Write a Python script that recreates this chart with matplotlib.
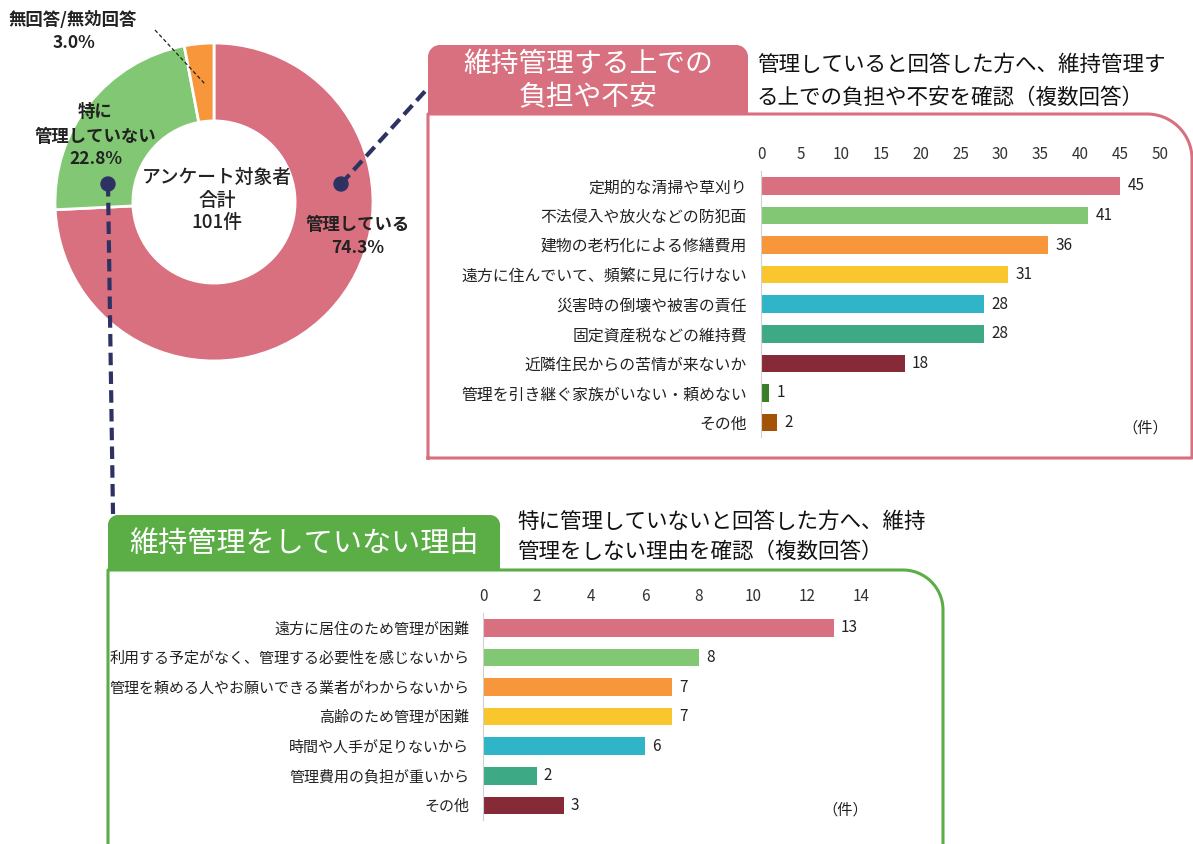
import numpy as np
import matplotlib
matplotlib.use('Agg')
import matplotlib.pyplot as plt
from matplotlib.patches import Polygon, Circle

plt.rcParams['font.family'] = ['Noto Sans CJK JP', 'DejaVu Sans']

# ---- data ----
donut_labels = ['管理している', '特に\n管理していない', '無回答/無効回答']
donut_values = [74.3, 22.8, 3.0]
donut_colors = ['#D9707F', '#82C874', '#F7963A']
total_n = 101

up_labels = ['定期的な清掃や草刈り', '不法侵入や放火などの防犯面', '建物の老朽化による修繕費用',
             '遠方に住んでいて、頻繁に見に行けない', '災害時の倒壊や被害の責任', '固定資産税などの維持費',
             '近隣住民からの苦情が来ないか', '管理を引き継ぐ家族がいない・頼めない', 'その他']
up_values = [45, 41, 36, 31, 28, 28, 18, 1, 2]
up_colors = ['#D9707F', '#82C874', '#F7963A', '#F9C62E', '#2FB5C7', '#3DAA85', '#862A37', '#3A7D2B', '#A55209']

low_labels = ['遠方に居住のため管理が困難', '利用する予定がなく、管理する必要性を感じないから',
              '管理を頼める人やお願いできる業者がわからないから', '高齢のため管理が困難',
              '時間や人手が足りないから', '管理費用の負担が重いから', 'その他']
low_values = [13, 8, 7, 7, 6, 2, 3]
low_colors = ['#D9707F', '#82C874', '#F7963A', '#F9C62E', '#2FB5C7', '#3DAA85', '#862A37']

W, H = 1193, 844
fig = plt.figure(figsize=(W / 100, H / 100), dpi=100)


def px_axes(left, top, w, h, **kw):
    return fig.add_axes([left / W, 1 - (top + h) / H, w / W, h / H], **kw)


PINK = '#D9707F'
GREEN = '#5BAE45'
NAVY = '#2E3262'

# ---- donut ----
cx, cy, R = 214, 202, 159
axp = px_axes(cx - R, cy - R, 2 * R, 2 * R)
axp.pie(donut_values, colors=donut_colors, startangle=90, counterclock=False,
        radius=1, wedgeprops=dict(width=0.49, edgecolor='white', linewidth=2))
axp.set_xlim(-1, 1)
axp.set_ylim(-1, 1)

# ---- bar charts ----
def bar_chart(left, right, top, labels, values, colors, xmax, step, fs_lab):
    n = len(values)
    sp = 29.6
    ax = px_axes(left, top, right - left, n * sp)
    ax.set_facecolor('none')
    y = np.arange(n)
    ax.barh(y, values, color=colors, height=0.6)
    ax.set_ylim(n - 0.5, -0.5)
    ax.set_xlim(0, xmax)
    ax.set_xticks(np.arange(0, xmax + 1, step))
    ax.xaxis.tick_top()
    ax.tick_params(axis='x', length=0, pad=6, labelsize=11, colors='#333333')
    ax.set_yticks(y)
    ax.set_yticklabels(labels, fontsize=fs_lab, color='#222222')
    ax.tick_params(axis='y', length=0, pad=10)
    for s in ['top', 'right', 'bottom']:
        ax.spines[s].set_visible(False)
    ax.spines['left'].set_color('#d0d0d0')
    for yi, v in zip(y, values):
        ax.text(v + xmax * 0.018, yi, str(v), va='center', ha='left', fontsize=11, color='#222222')
    return ax


bar_chart(761, 1160, 171, up_labels, up_values, up_colors, 50, 5, 11.4)
bar_chart(483, 861, 613, low_labels, low_values, low_colors, 14, 2, 10.8)

# ---- overlay for decorations ----
ov = fig.add_axes([0, 0, 1, 1], zorder=10)
ov.set_xlim(0, W)
ov.set_ylim(H, 0)
ov.axis('off')


def tab(x0, x1, y0, y1, r, color):
    t1 = np.linspace(np.pi, 1.5 * np.pi, 20)
    t2 = np.linspace(1.5 * np.pi, 2 * np.pi, 20)
    pts = [(x0, y1)]
    pts += list(zip(x0 + r + r * np.cos(t1), y0 + r + r * np.sin(t1)))
    pts += list(zip(x1 - r + r * np.cos(t2), y0 + r + r * np.sin(t2)))
    pts += [(x1, y1)]
    ov.add_patch(Polygon(pts, closed=True, facecolor=color, edgecolor='none'))


def frame(x0, xr, y0, ybot, r, color):
    t = np.linspace(1.5 * np.pi, 2 * np.pi, 30)
    xs = [x0, x0] + list(xr - r + r * np.cos(t)) + [xr, x0]
    ys = [ybot, y0] + list(y0 + r + r * np.sin(t)) + [ybot, ybot]
    ov.plot(xs, ys, color=color, lw=2.2, solid_joinstyle='round')


frame(428, 1192, 114, 458, 45, PINK)
tab(428, 748, 45, 115, 12, PINK)
ov.text(588, 64, '維持管理する上での', color='white', fontsize=20, ha='center', va='center')
ov.text(588, 97, '負担や不安', color='white', fontsize=20, ha='center', va='center')
ov.text(757, 65, '管理していると回答した方へ、維持管理す', fontsize=15.5, ha='left', va='center', color='#111111')
ov.text(757, 98, 'る上での負担や不安を確認（複数回答）', fontsize=15.5, ha='left', va='center', color='#111111')
ov.text(1145, 428, '（件）', fontsize=11, ha='center', va='center', color='#222222')

frame(108, 943, 570, 860, 40, GREEN)
tab(108, 500, 515, 571, 10, GREEN)
ov.text(304, 544, '維持管理をしていない理由', color='white', fontsize=21, ha='center', va='center')
ov.text(517, 522, '特に管理していないと回答した方へ、維持', fontsize=15.5, ha='left', va='center', color='#111111')
ov.text(517, 552, '管理をしない理由を確認（複数回答）', fontsize=15.5, ha='left', va='center', color='#111111')
ov.text(845, 810, '（件）', fontsize=11, ha='center', va='center', color='#222222')

# connectors
ov.plot([341, 428], [184, 88], color=NAVY, lw=3, ls=(0, (3, 1.5)))
ov.plot([108, 113], [184, 514], color=NAVY, lw=3, ls=(0, (3, 1.5)))
ov.add_patch(Circle((341, 184), 7, color=NAVY))
ov.add_patch(Circle((108, 184), 7, color=NAVY))
ov.plot([155, 205], [30, 84], color='#222222', lw=0.9, ls=(0, (3, 2)))

# donut labels
ov.text(358, 225, '管理している', fontsize=12.5, fontweight='bold', ha='center', va='center', color='#222222')
ov.text(358, 248, f'{donut_values[0]}%', fontsize=12.5, fontweight='bold', ha='center', va='center', color='#222222')
ov.text(95, 112, '特に', fontsize=12.5, fontweight='bold', ha='center', va='center', color='#222222')
ov.text(95, 137, '管理していない', fontsize=12.5, fontweight='bold', ha='center', va='center', color='#222222')
ov.text(96, 159, f'{donut_values[1]}%', fontsize=12.5, fontweight='bold', ha='center', va='center', color='#222222')
ov.text(73, 20, donut_labels[2], fontsize=12.5, fontweight='bold', ha='center', va='center', color='#222222')
ov.text(74, 43, f'{donut_values[2]}%', fontsize=12.5, fontweight='bold', ha='center', va='center', color='#222222')
ov.text(217, 177, 'アンケート対象者', fontsize=13.5, fontweight='medium', ha='center', va='center', color='#222222')
ov.text(217, 200, '合計', fontsize=13.5, fontweight='medium', ha='center', va='center', color='#222222')
ov.text(217, 222, f'{total_n}件', fontsize=13.5, fontweight='medium', ha='center', va='center', color='#222222')

fig.savefig('out.png', dpi=100, facecolor='white')
